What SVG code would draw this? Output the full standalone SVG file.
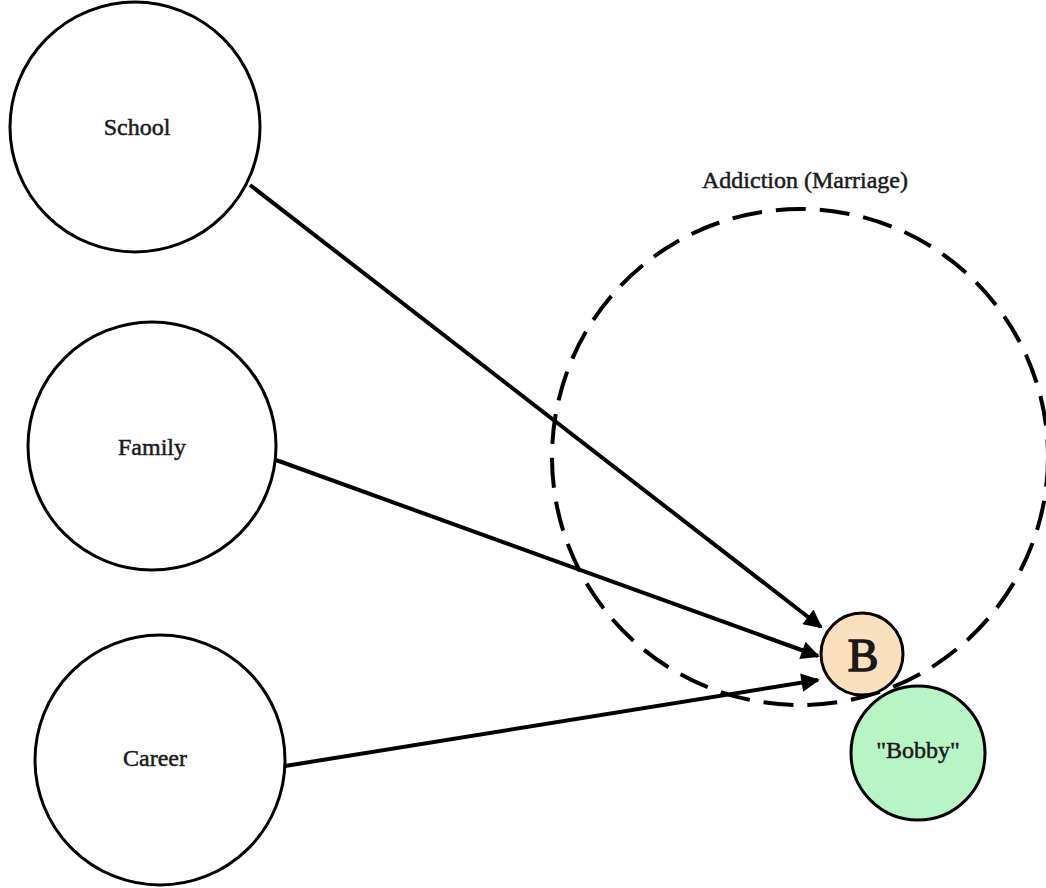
<svg xmlns="http://www.w3.org/2000/svg" width="1046" height="888" viewBox="0 0 1046 888">
  <style>
    .node { fill: #ffffff; stroke: #000000; stroke-width: 3; }
    .label { font-family: "Liberation Serif", "Times New Roman", serif; font-size: 24px; fill: #1a1a1a; stroke: #1a1a1a; stroke-width: 0.5; text-anchor: middle; dominant-baseline: central; }
    .edge { stroke: #000000; stroke-width: 4; fill: none; marker-end: url(#arrow); }
    .group { fill: none; stroke: #000000; stroke-width: 4; stroke-dasharray: 30 14; }
  </style>
  <defs>
    <marker id="arrow" viewBox="0 0 10 10" refX="9" refY="5" markerWidth="5.2" markerHeight="4.6" markerUnits="strokeWidth" orient="auto">
      <path d="M0,0 L10,5 L0,10 Z" fill="#000000"/>
    </marker>
  </defs>
  <rect width="1046" height="888" fill="#ffffff"/>

  <!-- grouping boundary -->
  <g id="addiction">
    <circle class="group" cx="800" cy="457" r="248"/>
    <text class="label" x="805" y="180">Addiction (Marriage)</text>
  </g>

  <g id="school">
    <circle class="node" cx="135" cy="127" r="125"/>
    <text class="label" x="137" y="127">School</text>
  </g>
  <g id="family">
    <circle class="node" cx="152" cy="446" r="124"/>
    <text class="label" x="152" y="447">Family</text>
  </g>
  <g id="career">
    <circle class="node" cx="160" cy="760" r="125"/>
    <text class="label" x="155" y="758">Career</text>
  </g>

  <g id="edges">
    <line class="edge" x1="250" y1="185" x2="821" y2="627"/>
    <line class="edge" x1="276" y1="460" x2="818" y2="656"/>
    <line class="edge" x1="285" y1="766" x2="818" y2="680"/>
  </g>

  <g id="bobby">
    <circle cx="918" cy="753" r="67" fill="#b8f5c4" stroke="#000000" stroke-width="3"/>
    <text class="label" x="918" y="750">"Bobby"</text>
  </g>
  <g id="b">
    <circle cx="862" cy="654" r="41" fill="#fae0bd" stroke="#000000" stroke-width="3"/>
    <text class="label" x="863" y="655" style="font-size:46px;stroke-width:1.5">B</text>
  </g>
</svg>
